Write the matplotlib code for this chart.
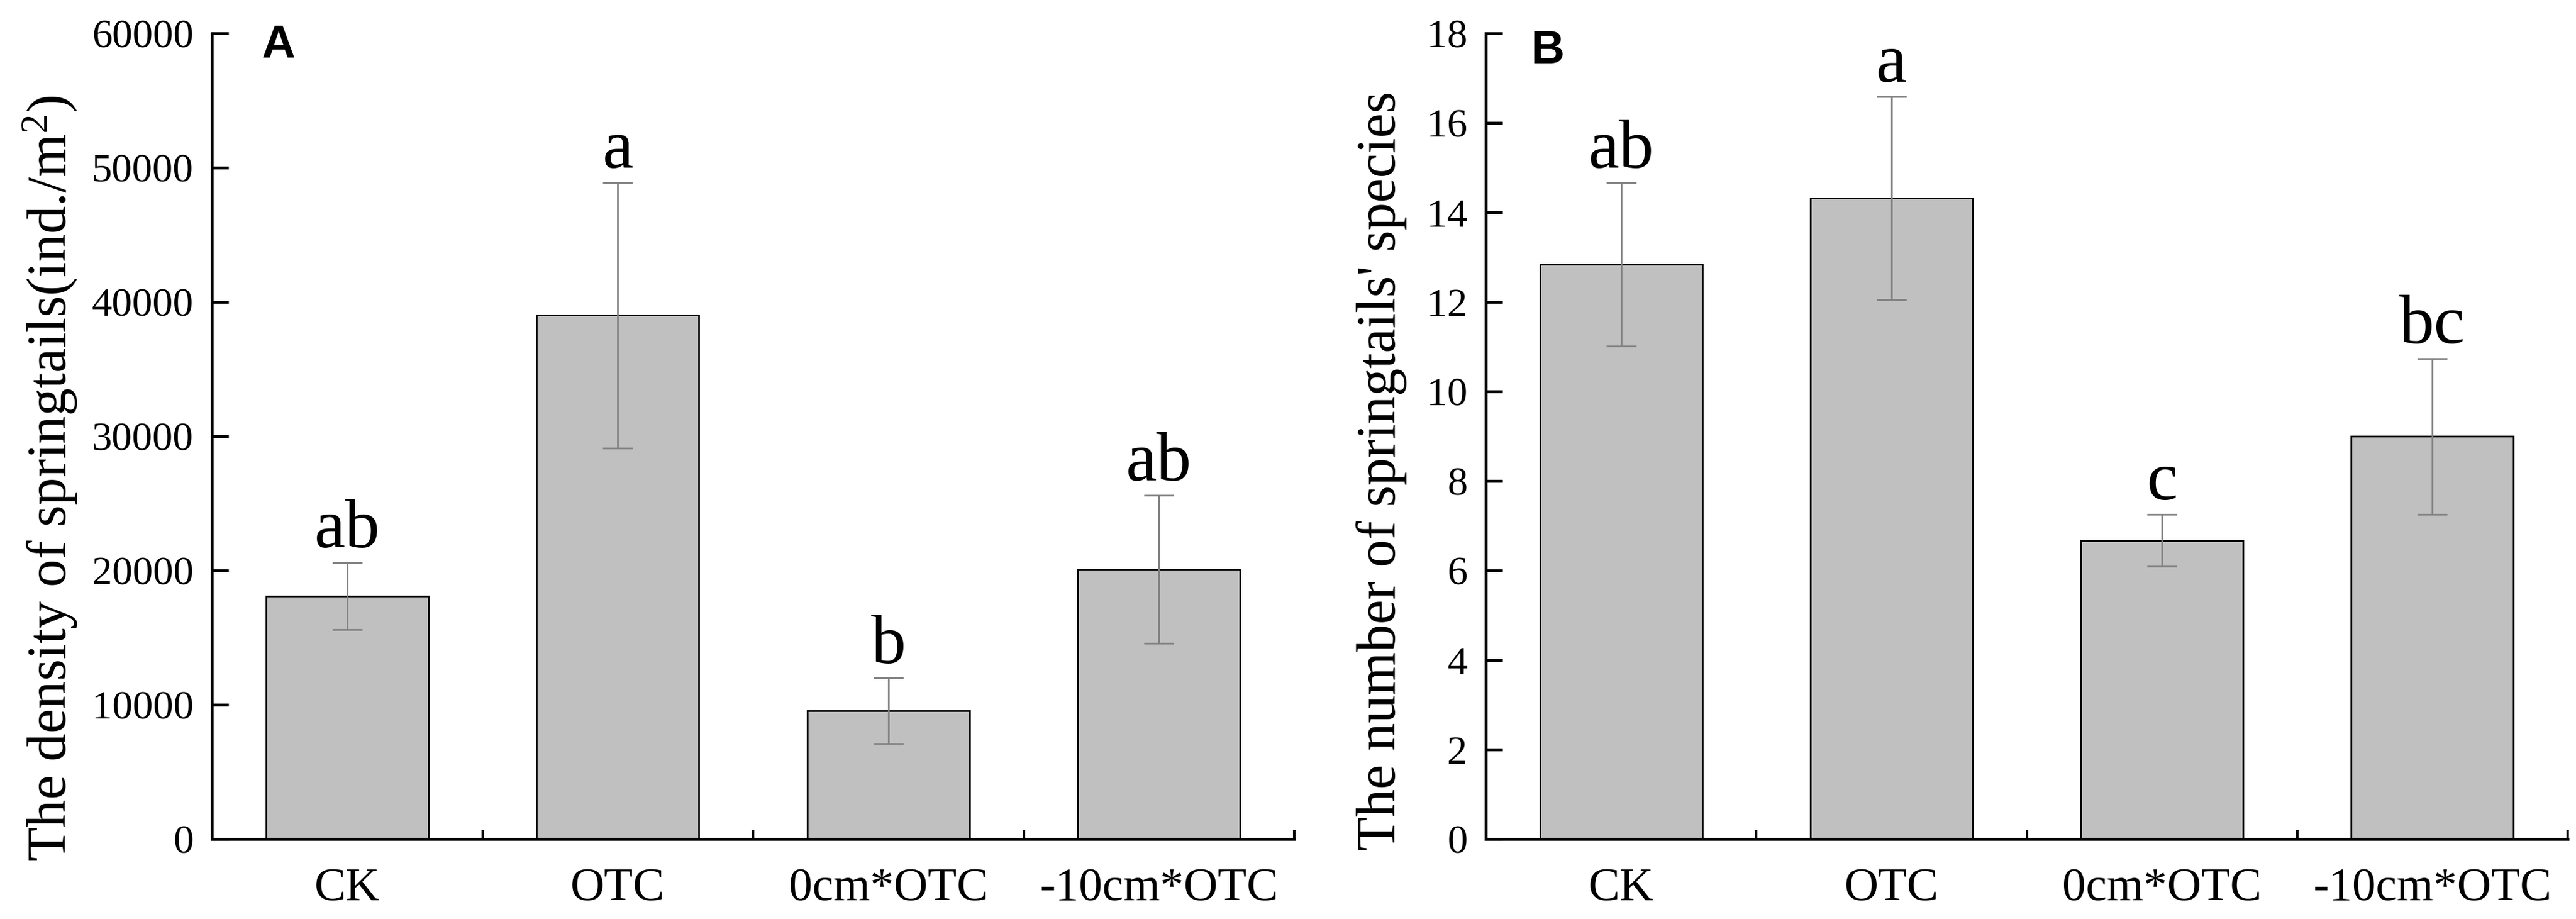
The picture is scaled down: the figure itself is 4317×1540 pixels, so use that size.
import matplotlib
matplotlib.use("Agg")
import matplotlib.pyplot as plt
from matplotlib.ticker import FixedLocator, NullFormatter

# ---------------- Data ----------------
categories = ["CK", "OTC", "0cm*OTC", "-10cm*OTC"]

density_mean = [18100, 39000, 9550, 20100]
density_err = [2500, 9900, 2450, 5500]
density_letters = ["ab", "a", "b", "ab"]
density_ticks = [0, 10000, 20000, 30000, 40000, 50000, 60000]

species_mean = [12.84, 14.32, 6.67, 9.0]
species_err = [1.83, 2.27, 0.58, 1.74]
species_letters = ["ab", "a", "c", "bc"]
species_ticks = [0, 2, 4, 6, 8, 10, 12, 14, 16, 18]

# ---------------- Style ----------------
plt.rcParams["font.family"] = ["Liberation Serif", "DejaVu Serif"]
plt.rcParams["mathtext.fontset"] = "custom"
plt.rcParams["mathtext.rm"] = "Liberation Serif"
W, H, DPI = 4317, 1540, 100
BAR_COLOR = "#c0c0c0"
ERR_COLOR = "#808080"


def draw_panel(ax, means, errs, letters, yticks, ylim):
    x = list(range(len(categories)))
    ax.bar(x, means, width=0.6, color=BAR_COLOR, edgecolor="black", linewidth=2, zorder=2)
    ax.errorbar(x, means, yerr=errs, fmt="none", ecolor=ERR_COLOR, elinewidth=2,
                capsize=18, capthick=2, zorder=3)
    for xi, m, e, lab in zip(x, means, errs, letters):
        ax.annotate(lab, (xi, m + e), xytext=(0, 18), textcoords="offset points",
                    ha="center", va="baseline", fontsize=84)
    ax.set_xlim(-0.5, len(categories) - 0.5)
    ax.set_ylim(*ylim)
    ax.set_yticks(yticks)
    ax.set_xticks(x)
    ax.set_xticklabels(categories)
    ax.xaxis.set_minor_locator(FixedLocator([i + 0.5 for i in range(len(categories) - 1)] + [len(categories) - 0.5]))
    ax.xaxis.set_minor_formatter(NullFormatter())
    ax.tick_params(axis="x", which="major", length=0, pad=34, labelsize=57)
    ax.tick_params(axis="x", which="minor", direction="in", length=11, width=3)
    ax.tick_params(axis="y", direction="in", length=20, width=3.5, pad=22, labelsize=49)
    for s in ["top", "right"]:
        ax.spines[s].set_visible(False)
    for s in ["left", "bottom"]:
        ax.spines[s].set_linewidth(3.5)


fig = plt.figure(figsize=(W / DPI, H / DPI), dpi=DPI)
axA = fig.add_axes([355 / W, 1 - 1406 / H, (2169 - 355) / W, (1406 - 56) / H])
axB = fig.add_axes([2490 / W, 1 - 1406 / H, (4303 - 2490) / W, (1406 - 56) / H])

draw_panel(axA, density_mean, density_err, density_letters, density_ticks, (0, 60000))
draw_panel(axB, species_mean, species_err, species_letters, species_ticks, (0, 18))

fig.text(84 / W, 1 - 801 / H, "The density of springtails(ind./m$\\mathregular{^2}$)", rotation=90,
         ha="center", va="center", fontsize=67)
fig.text(2315 / W, 1 - 789 / H, "The number of springtails' species", rotation=90,
         ha="center", va="center", fontsize=67)

fig.text(438 / W, 1 - 40 / H, "A", ha="left", va="top", fontsize=56, fontweight="bold",
         family=["Liberation Sans", "DejaVu Sans"])
fig.text(2566 / W, 1 - 49 / H, "B", ha="left", va="top", fontsize=56, fontweight="bold",
         family=["Liberation Sans", "DejaVu Sans"])

fig.savefig("out.png", dpi=DPI, facecolor="white")
